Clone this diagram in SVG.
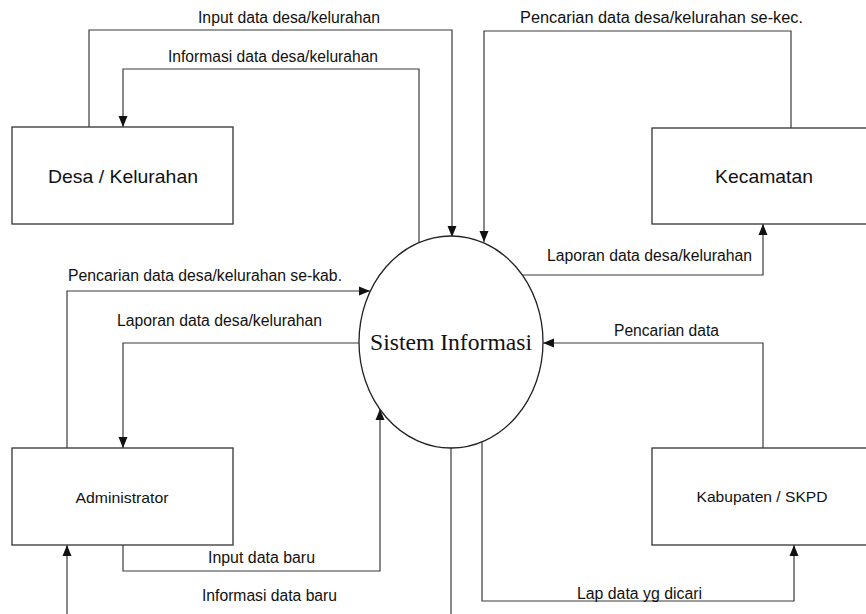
<svg xmlns="http://www.w3.org/2000/svg" width="866" height="614" viewBox="0 0 866 614">
  <style>
    .box { fill: #ffffff; stroke: #333333; stroke-width: 1.3; }
    .proc { fill: #ffffff; stroke: #222222; stroke-width: 1.3; }
    .flow { fill: none; stroke: #3a3a3a; stroke-width: 1.2; marker-end: url(#arrow); }
    .lbl { font-family: "Liberation Sans", Arial, sans-serif; font-size: 16px; fill: #111111; }
    .ent { font-family: "Liberation Sans", Arial, sans-serif; fill: #111111; text-anchor: middle; }
    .big { font-size: 19px; }
    .small { font-size: 15px; }
    .sys { font-family: "Liberation Serif", "Times New Roman", serif; font-size: 23px; fill: #111111; text-anchor: middle; }
  </style>
  <defs>
    <marker id="arrow" markerWidth="11" markerHeight="10" refX="11" refY="5" orient="auto" markerUnits="userSpaceOnUse">
      <path d="M0,0.5 L11,5 L0,9.5 Z" fill="#111111"/>
    </marker>
  </defs>

  <rect width="866" height="614" fill="#ffffff"/>

  <!-- data flows -->
  <g id="connectors">
    <path class="flow" d="M89,127 V30 H452 V237"/>
    <path class="flow" d="M419,242 V69 H123 V127"/>
    <path class="flow" d="M791,128 V31 H484 V242"/>
    <path class="flow" d="M522,275 H763 V224"/>
    <path class="flow" d="M67,448 V291 H370"/>
    <path class="flow" d="M359,343 H123 V448"/>
    <path class="flow" d="M123,545 V571 H380 V409"/>
    <path class="flow" d="M451,448 V640 H67 V545"/>
    <path class="flow" d="M763,448 V343 H543"/>
    <path class="flow" d="M482,442 V601 H794 V545"/>

    <text class="lbl" x="198" y="23" textLength="182" lengthAdjust="spacingAndGlyphs">Input data desa/kelurahan</text>
    <text class="lbl" x="168" y="62" textLength="210" lengthAdjust="spacingAndGlyphs">Informasi data desa/kelurahan</text>
    <text class="lbl" x="520" y="23" textLength="283" lengthAdjust="spacingAndGlyphs">Pencarian data desa/kelurahan se-kec.</text>
    <text class="lbl" x="547" y="261" textLength="205" lengthAdjust="spacingAndGlyphs">Laporan data desa/kelurahan</text>
    <text class="lbl" x="68" y="281" textLength="274" lengthAdjust="spacingAndGlyphs">Pencarian data desa/kelurahan se-kab.</text>
    <text class="lbl" x="117" y="326" textLength="205" lengthAdjust="spacingAndGlyphs">Laporan data desa/kelurahan</text>
    <text class="lbl" x="208" y="563" textLength="107" lengthAdjust="spacingAndGlyphs">Input data baru</text>
    <text class="lbl" x="202" y="601" textLength="135" lengthAdjust="spacingAndGlyphs">Informasi data baru</text>
    <text class="lbl" x="614" y="336" textLength="105" lengthAdjust="spacingAndGlyphs">Pencarian data</text>
    <text class="lbl" x="577" y="599" textLength="125" lengthAdjust="spacingAndGlyphs">Lap data yg dicari</text>
  </g>

  <!-- external entities -->
  <g id="desa">
    <rect class="box" x="12" y="127" width="221" height="97"/>
    <text class="ent big" x="123" y="183" textLength="150" lengthAdjust="spacingAndGlyphs">Desa / Kelurahan</text>
  </g>
  <g id="kecamatan">
    <rect class="box" x="652" y="128" width="230" height="96"/>
    <text class="ent big" x="764" y="183" textLength="98" lengthAdjust="spacingAndGlyphs">Kecamatan</text>
  </g>
  <g id="administrator">
    <rect class="box" x="12" y="448" width="221" height="97"/>
    <text class="ent small" x="122" y="503" textLength="93" lengthAdjust="spacingAndGlyphs">Administrator</text>
  </g>
  <g id="kabupaten">
    <rect class="box" x="652" y="448" width="230" height="97"/>
    <text class="ent small" x="762" y="502" textLength="131" lengthAdjust="spacingAndGlyphs">Kabupaten / SKPD</text>
  </g>

  <!-- central process -->
  <g id="sistem">
    <ellipse class="proc" cx="451" cy="342" rx="92" ry="106"/>
    <text class="sys" x="451" y="350" textLength="162" lengthAdjust="spacingAndGlyphs">Sistem Informasi</text>
  </g>
</svg>
